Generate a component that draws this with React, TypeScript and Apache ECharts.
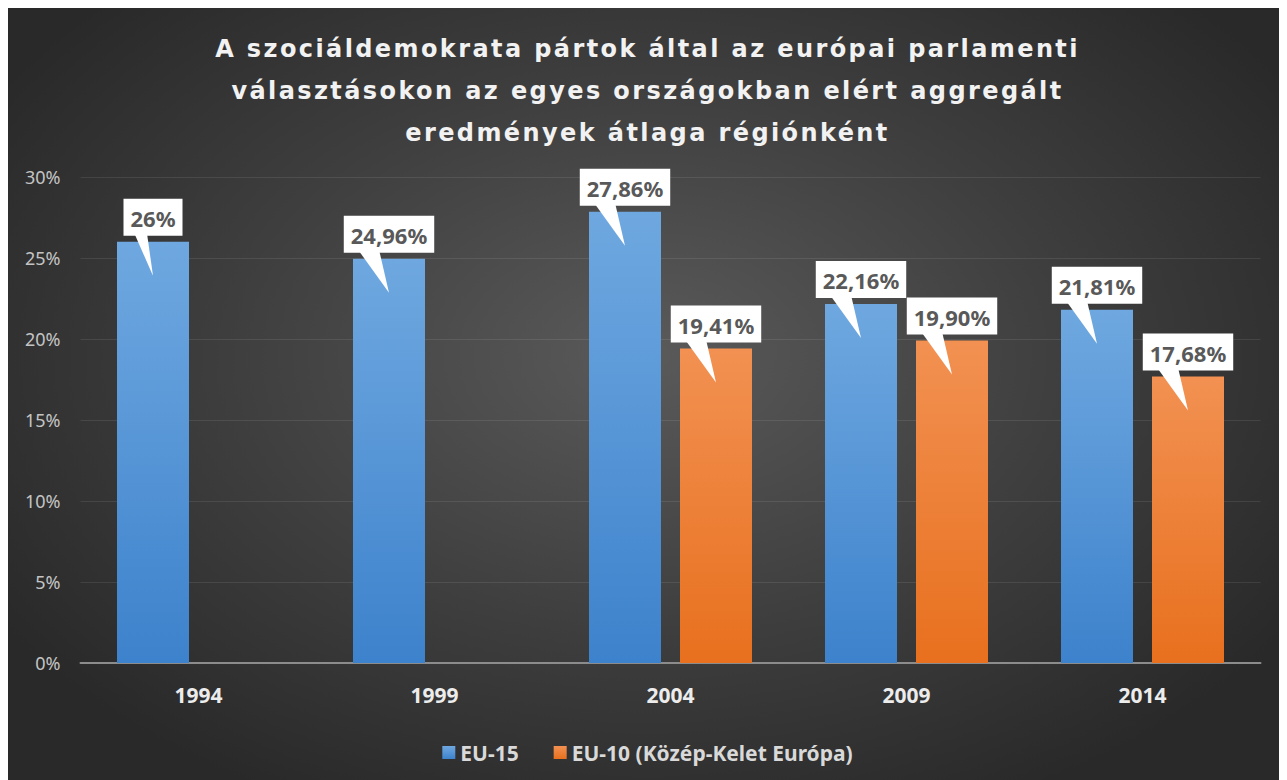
import React, { useEffect, useRef } from "react";
import * as echarts from "echarts";

const years = ["1994", "1999", "2004", "2009", "2014"];
const eu15 = [26, 24.96, 27.86, 22.16, 21.81];
const eu10: (number | null)[] = [null, null, 19.41, 19.9, 17.68];
const seriesNames = ["EU-15", "EU-10 (Közép-Kelet Európa)"];
const titleLines = [
  "A szociáldemokrata pártok által az európai parlamenti",
  "választásokon az egyes országokban elért aggregált",
  "eredmények átlaga régiónként",
];

function fmt(v: number): string {
  return (Number.isInteger(v) ? String(v) : v.toFixed(2).replace(".", ",")) + "%";
}

const BAR_W = 72;
const BAR_GAP = 19;

export default function App() {
  const ref = useRef<HTMLDivElement>(null);
  useEffect(() => {
    document.documentElement.style.overflow = "hidden";
    document.body.style.overflow = "hidden";
    const chart = echarts.init(ref.current!, null, { renderer: "svg" });

    const tailData: number[][] = [];
    eu15.forEach((v, i) => v != null && tailData.push([i, v, 0]));
    eu10.forEach((v, i) => v != null && tailData.push([i, v as number, 1]));

    const labelCfg = {
      show: true,
      position: "top",
      distance: 6,
      backgroundColor: "#ffffff",
      padding: [8, 7, 7, 7],
      color: "#595959",
      fontFamily: "Noto Sans",
      fontWeight: "bold",
      fontSize: 22,
      formatter: (p: any) => fmt(p.value),
    };

    chart.setOption({
      animation: false,
      backgroundColor: "transparent",
      title: {
        text: titleLines.join("\n"),
        left: "center",
        top: 15,
        textStyle: {
          color: "#f2f2f2",
          fontFamily: "DejaVu Sans",
          fontWeight: "bold",
          fontSize: 24,
          lineHeight: 42,
        },
      },
      legend: {
        data: seriesNames,
        top: 729,
        left: "center",
        itemWidth: 13,
        itemHeight: 13,
        itemGap: 35,
        icon: "rect",
        textStyle: {
          color: "#d9d9d9",
          fontFamily: "Noto Sans",
          fontWeight: "bold",
          fontSize: 21,
        },
      },
      grid: { left: 72.5, right: 26.5, top: 169, bottom: 117 },
      xAxis: {
        type: "category",
        data: years,
        axisLine: { lineStyle: { color: "#8c8c8c", width: 2 } },
        axisTick: { show: false },
        axisLabel: {
          color: "#ececec",
          fontFamily: "Noto Sans",
          fontWeight: "bold",
          fontSize: 21,
          margin: 21,
        },
      },
      yAxis: {
        type: "value",
        min: 0,
        max: 30,
        interval: 5,
        axisLine: { show: false },
        axisTick: { show: false },
        splitLine: { lineStyle: { color: "rgba(255,255,255,0.09)", width: 1 } },
        axisLabel: {
          formatter: "{value}%",
          color: "#c4c4c4",
          fontFamily: "Noto Sans",
          fontSize: 18,
          margin: 20,
        },
      },
      series: [
        {
          name: seriesNames[0],
          type: "bar",
          data: eu15,
          barWidth: BAR_W,
          barGap: (BAR_GAP / BAR_W) * 100 + "%",
          z: 2,
          itemStyle: {
            color: new echarts.graphic.LinearGradient(0, 0, 0, 1, [
              { offset: 0, color: "#6fa8e0" },
              { offset: 1, color: "#3d82cc" },
            ]),
          },
          label: labelCfg,
        },
        {
          name: seriesNames[1],
          type: "bar",
          data: eu10,
          barWidth: BAR_W,
          z: 2,
          itemStyle: {
            color: new echarts.graphic.LinearGradient(0, 0, 0, 1, [
              { offset: 0, color: "#f29152" },
              { offset: 1, color: "#e8701e" },
            ]),
          },
          label: labelCfg,
        },
        {
          name: "tails",
          type: "custom",
          z: 5,
          silent: true,
          encode: { x: 0, y: 1 },
          data: tailData,
          renderItem: (params: any, api: any) => {
            const i = api.value(0);
            const v = api.value(1);
            const s = api.value(2);
            const p = api.coord([i, v]);
            const off = (BAR_W + BAR_GAP) / 2;
            const cx = p[0] + (s === 0 ? -off : off);
            const top = p[1];
            const hw = fmt(v).length * 6.5 + 11;
            const x1 = cx - hw * 0.62;
            const x2 = cx - hw * 0.2;
            return {
              type: "polygon",
              shape: {
                points: [
                  [x1, top - 9],
                  [x2, top - 9],
                  [cx, top + 34],
                ],
              },
              style: { fill: "#ffffff" },
            };
          },
        },
      ],
    });

    // widen the title with letter spacing, keeping each line centred
    try {
      const svg = ref.current!.querySelector("svg");
      if (svg) {
        const els = Array.from(svg.querySelectorAll("text")) as SVGTextElement[];
        els.forEach((el) => {
          const t = (el.textContent || "").trim();
          if (!titleLines.includes(t)) return;
          const w0 = el.getBBox().width;
          el.style.letterSpacing = "2.4px";
          const w1 = el.getBBox().width;
          const anchor = el.getAttribute("text-anchor") || "start";
          const extra = w1 - w0;
          const dx =
            anchor === "middle" ? 0 : anchor === "end" ? extra / 2 : -extra / 2;
          const x = parseFloat(el.getAttribute("x") || "0");
          el.setAttribute("x", String(x + dx));
        });
      }
    } catch (e) {
      // ignore
    }

    return () => chart.dispose();
  }, []);

  return (
    <div
      ref={ref}
      style={{
        width: 1279,
        height: 772,
        background:
          "radial-gradient(ellipse 60% 65% at 50% 45%, #5a5a5a 0%, #3e3e3e 55%, #292929 100%)",
      }}
    />
  );
}
